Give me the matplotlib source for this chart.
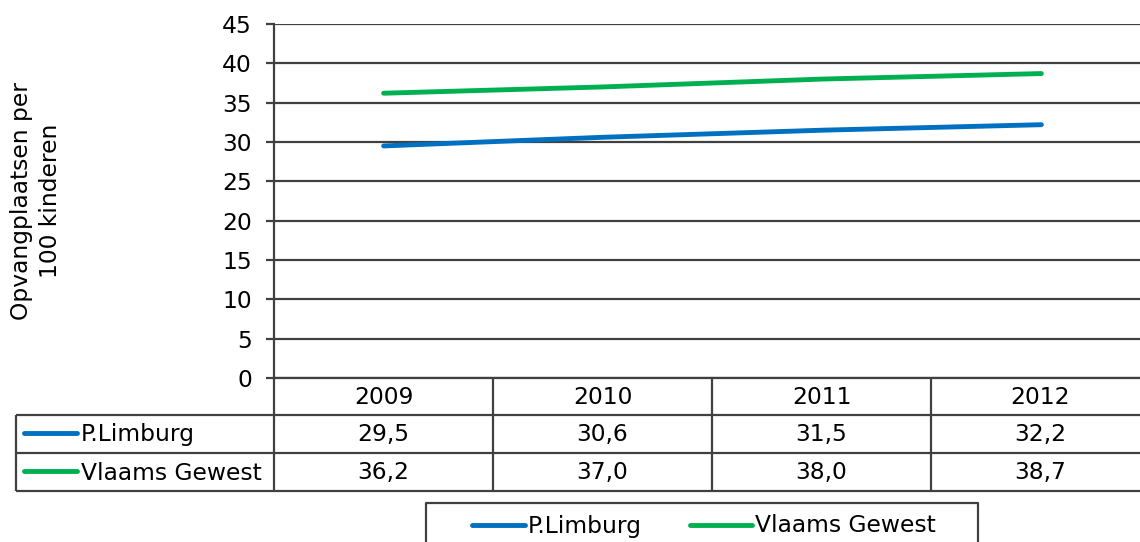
import matplotlib.pyplot as plt

years = ["2009", "2010", "2011", "2012"]
limburg = [29.5, 30.6, 31.5, 32.2]
vlaams = [36.2, 37.0, 38.0, 38.7]
series_names = ["P.Limburg", "Vlaams Gewest"]
series_colors = ["#0070C0", "#00B050"]
yticks = [0, 5, 10, 15, 20, 25, 30, 35, 40, 45]

W, H = 1140, 542
FS = 16.8
GRID = "#404040"

plt.rcParams["font.family"] = ["DejaVu Sans"]
fig = plt.figure(figsize=(W / 100, H / 100), dpi=100)

# plot area (extends past the right edge, like the reference)
x0, x1, ytop, ybot = 274, 1151, 24, 378
ax = fig.add_axes([x0 / W, 1 - ybot / H, (x1 - x0) / W, (ybot - ytop) / H])
xs = [i + 0.5 for i in range(len(years))]
for vals, col in zip([limburg, vlaams], series_colors):
    ax.plot(xs, vals, color=col, lw=3.5, solid_capstyle="round", zorder=3)
ax.set_xlim(0, len(years))
ax.set_ylim(0, 45)
ax.set_yticks(yticks)
ax.set_yticklabels([str(t) for t in yticks], fontsize=FS)
ax.tick_params(axis="y", length=6, width=1.6, color=GRID, pad=10)
ax.tick_params(axis="x", length=0, labelbottom=False)
ax.yaxis.grid(True, color=GRID, lw=1.6)
ax.set_axisbelow(True)
for s in ["top", "right", "bottom"]:
    ax.spines[s].set_visible(False)
ax.spines["left"].set_color(GRID)
ax.spines["left"].set_linewidth(1.6)
fig.text(36 / W, 1 - 201 / H, "Opvangplaatsen per\n100 kinderen", rotation=90,
         ha="center", va="center", fontsize=FS, linespacing=1.35)

# data table below the plot, drawn in pixel coordinates
ov = fig.add_axes([0, 0, 1, 1])
ov.set_xlim(0, W)
ov.set_ylim(H, 0)
ov.axis("off")
colw = 219
tl = 16
rows = [378, 415, 453, 491]
kw = dict(color=GRID, lw=1.6, solid_capstyle="butt")
ov.plot([x0, x1], [rows[0], rows[0]], **kw)
for r in rows[1:]:
    ov.plot([tl, x1], [r, r], **kw)
ov.plot([tl, tl], [rows[1], rows[3]], **kw)
for i in range(len(years) + 1):
    xc = x0 + i * colw
    ov.plot([xc, xc], [rows[0], rows[3]], **kw)
for i, yr in enumerate(years):
    ov.text(x0 + (i + 0.5) * colw, (rows[0] + rows[1]) / 2 + 1, yr,
            ha="center", va="center", fontsize=FS)
for r, (name, col, vals) in enumerate(zip(series_names, series_colors, [limburg, vlaams])):
    yc = (rows[r + 1] + rows[r + 2]) / 2
    ov.plot([24, 77], [yc - 1, yc - 1], color=col, lw=3.5, solid_capstyle="round")
    ov.text(81, yc + 1, name, ha="left", va="center", fontsize=FS)
    for i, v in enumerate(vals):
        ov.text(x0 + (i + 0.5) * colw, yc + 1, f"{v:.1f}".replace(".", ","),
                ha="center", va="center", fontsize=FS)

# legend box at the bottom
ov.plot([426, 426, 978, 978], [H + 5, 503, 503, H + 5], **kw)
leg_x = [(472, 525, 528), (690, 752, 755)]
for (lx0, lx1, tx), name, col in zip(leg_x, series_names, series_colors):
    ov.plot([lx0, lx1], [525, 525], color=col, lw=3.5, solid_capstyle="round")
    ov.text(tx, 526, name, ha="left", va="center", fontsize=FS)

fig.savefig("out.png", dpi=100)
